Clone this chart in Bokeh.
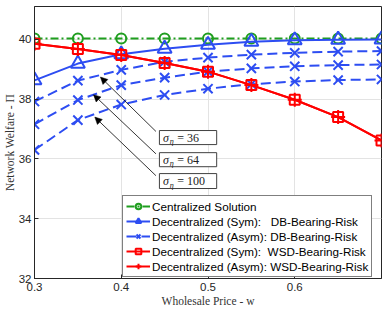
from bokeh.plotting import figure
from bokeh.models import (Range1d, FixedTicker, Legend, LegendItem, Arrow,
                          NormalHead, Label, BoxAnnotation)
from bokeh.embed import file_html
from bokeh.resources import INLINE

# ---------------- data ----------------
w = [0.3, 0.35, 0.4, 0.45, 0.5, 0.55, 0.6, 0.65, 0.7]
centralized = [40.03, 40.03, 40.03, 40.03, 40.03, 40.03, 40.03, 40.03, 40.03]
sym_db = [38.63, 39.19, 39.5, 39.69, 39.82, 39.92, 39.97, 39.99, 40.0]
asym_db_36 = [37.92, 38.62, 38.98, 39.25, 39.39, 39.49, 39.55, 39.59, 39.61]
asym_db_64 = [37.16, 37.97, 38.47, 38.72, 38.92, 39.03, 39.1, 39.14, 39.16]
asym_db_100 = [36.3, 37.3, 37.82, 38.14, 38.35, 38.5, 38.59, 38.64, 38.66]
sym_wsd = [39.85, 39.68, 39.48, 39.21, 38.92, 38.47, 37.98, 37.4, 36.62]
asym_wsd = [39.85, 39.68, 39.48, 39.21, 38.92, 38.47, 37.98, 37.4, 36.62]
x_ticks = [0.3, 0.4, 0.5, 0.6]
y_ticks = [32, 34, 36, 38, 40]
sigma_labels = ["36", "64", "100"]

legend_labels = [
    "Centralized Solution",
    "Decentralized (Sym):\u00a0\u00a0\u00a0DB-Bearing-Risk",
    "Decentralized (Asym): DB-Bearing-Risk",
    "Decentralized (Sym):\u00a0\u00a0WSD-Bearing-Risk",
    "Decentralized (Asym): WSD-Bearing-Risk",
]
x_label_text = "Wholesale Price - w"
y_label_text = "Network Welfare - \u03a0"

# ---------------- styles / layout ----------------
GREEN = "#1f9e1f"
BLUE = "#2d4df2"
RED = "#ff0000"
AX = "#262626"

# annotation geometry (data units)
arrow_heads = [(0.376, 38.74), (0.368, 38.15), (0.3695, 37.40)]
arrow_tails = [(0.440, 36.92), (0.440, 36.17), (0.440, 35.44)]
box_left, box_right = 0.444, 0.510
box_ranges = [(36.48, 36.95), (35.74, 36.21), (35.01, 35.51)]

p = figure(width=388, height=314, output_backend="svg", toolbar_location=None,
           title=None,
           x_range=Range1d(0.3, 0.7), y_range=Range1d(32, 41.1),
           min_border_left=0, min_border_right=7, min_border_top=6,
           min_border_bottom=36)

p.outline_line_color = AX
p.outline_line_width = 1
p.background_fill_color = "white"

for ax in (p.xaxis, p.yaxis):
    ax.axis_line_color = AX
    ax.major_tick_line_color = AX
    ax.major_tick_in = 4
    ax.major_tick_out = 0
    ax.minor_tick_line_color = None
    ax.major_label_text_font = "Liberation Sans"
    ax.major_label_text_font_size = "11.5px"
    ax.major_label_text_color = AX
    ax.major_label_text_line_height = 1.0
    ax.axis_label_text_font = "Liberation Serif"
    ax.axis_label_text_font_size = "11.5px"
    ax.axis_label_text_font_style = "normal"
    ax.axis_label_text_color = "#333333"
    ax.axis_label_text_line_height = 1.0
    ax.major_label_standoff = 4
    ax.axis_label_standoff = 1

p.yaxis.major_label_standoff = 3
p.yaxis.axis_label_standoff = 0

p.xaxis.ticker = FixedTicker(ticks=x_ticks)
p.yaxis.ticker = FixedTicker(ticks=y_ticks)
p.xaxis.axis_label = x_label_text
p.yaxis.axis_label = y_label_text

p.xgrid.grid_line_color = "#e3e3e3"
p.ygrid.grid_line_color = "#e3e3e3"
p.xgrid.ticker = FixedTicker(ticks=x_ticks)
p.ygrid.ticker = FixedTicker(ticks=y_ticks)

LW = 2
# centralized
c_l = p.line(w, centralized, line_color=GREEN, line_width=LW, line_dash="8 3 2 3")
c_m = p.scatter(w, centralized, marker="circle", size=10, line_color=GREEN,
                line_width=LW, fill_color=None)
# sym DB
s_l = p.line(w, sym_db, line_color=BLUE, line_width=LW)
s_m = p.scatter(w, sym_db, marker="triangle", size=14, line_color=BLUE,
                line_width=LW, fill_color=None)
# asym DB
a_rs = []
for vals in (asym_db_36, asym_db_64, asym_db_100):
    a_rs.append(p.line(w, vals, line_color=BLUE, line_width=LW, line_dash="10 5"))
    a_rs.append(p.scatter(w, vals, marker="x", size=13, line_color=BLUE,
                          line_width=LW))
# sym WSD
r_l = p.line(w, sym_wsd, line_color=RED, line_width=LW)
r_m = p.scatter(w, sym_wsd, marker="square", size=10, line_color=RED,
                line_width=LW, fill_color=None)
# asym WSD
q_l = p.line(w, asym_wsd, line_color=RED, line_width=LW)
q_m = p.scatter(w, asym_wsd, marker="cross", size=14, line_color=RED,
                line_width=LW)

# annotations
for (hx, hy), (tx, ty) in zip(arrow_heads, arrow_tails):
    p.add_layout(Arrow(end=NormalHead(size=7, fill_color="black",
                                      line_color="black", line_width=0.5),
                       x_start=tx, y_start=ty, x_end=hx, y_end=hy,
                       line_color="black", line_width=0.8))

for (b, t), s in zip(box_ranges, sigma_labels):
    p.add_layout(BoxAnnotation(left=box_left, right=box_right, bottom=b, top=t,
                               fill_color="white", fill_alpha=1,
                               line_color="#404040", line_width=1, line_alpha=1))
    yc = (b + t) / 2
    p.add_layout(Label(x=box_left + 0.004, y=yc, text="\u03c3",
                       text_font="Liberation Serif", text_font_style="italic",
                       text_font_size="12px", text_baseline="middle",
                       text_color="#222222"))
    p.add_layout(Label(x=box_left + 0.0118, y=yc, y_offset=-4, text="\u03b7",
                       text_font="Liberation Serif", text_font_style="italic",
                       text_font_size="8px", text_baseline="middle",
                       text_color="#222222"))
    p.add_layout(Label(x=box_left + 0.0205, y=yc, text="= " + s,
                       text_font="Liberation Serif", text_font_size="12px",
                       text_baseline="middle", text_color="#222222"))

legend = Legend(items=[
    LegendItem(label=legend_labels[0], renderers=[c_l, c_m]),
    LegendItem(label=legend_labels[1], renderers=[s_l, s_m]),
    LegendItem(label=legend_labels[2], renderers=a_rs[:2]),
    LegendItem(label=legend_labels[3], renderers=[r_l, r_m]),
    LegendItem(label=legend_labels[4], renderers=[q_l, q_m]),
], location=(88, 1))
legend.label_text_font = "Liberation Sans"
legend.label_text_font_size = "11.7px"
legend.label_text_color = "black"
legend.glyph_width = 24
legend.glyph_height = 14
legend.label_height = 14
legend.label_standoff = 2
legend.padding = 3
legend.spacing = 1
legend.margin = 0
legend.border_line_color = "black"
legend.border_line_width = 1
legend.background_fill_alpha = 1
p.add_layout(legend)

open("out.html", "w").write(file_html(p, INLINE))
